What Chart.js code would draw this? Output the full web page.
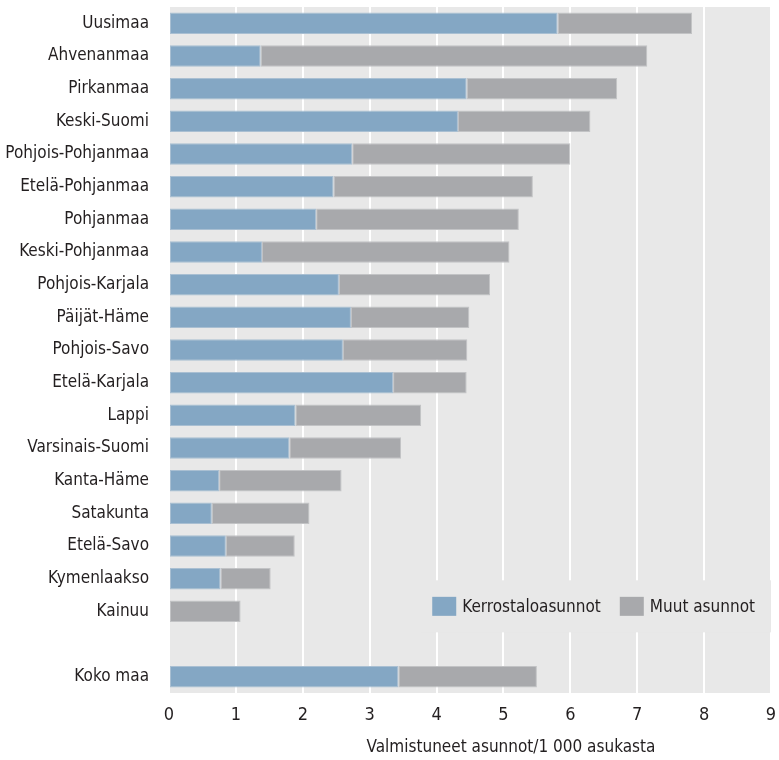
<!DOCTYPE html>
<html>
<head>
<meta charset="utf-8">
<script src="https://cdn.jsdelivr.net/npm/chart.js@4.4.1/dist/chart.umd.min.js"></script>
<style>
    html, body { margin: 0; padding: 0; background: #fff; }
    #wrap { width: 779px; height: 760px; }
</style>
</head>
<body>
<div id="wrap"><canvas id="housingChart"></canvas></div>
<script>
// valmistuneet asunnot / 1 000 asukasta, maakunnittain
const regions = [
    'Uusimaa', 'Ahvenanmaa', 'Pirkanmaa', 'Keski-Suomi', 'Pohjois-Pohjanmaa',
    'Etelä-Pohjanmaa', 'Pohjanmaa', 'Keski-Pohjanmaa', 'Pohjois-Karjala', 'Päijät-Häme',
    'Pohjois-Savo', 'Etelä-Karjala', 'Lappi', 'Varsinais-Suomi', 'Kanta-Häme',
    'Satakunta', 'Etelä-Savo', 'Kymenlaakso', 'Kainuu', '', 'Koko maa'
];
const kerrostalo = [5.81, 1.37, 4.45, 4.32, 2.74, 2.46, 2.20, 1.39, 2.54, 2.72,
    2.60, 3.35, 1.89, 1.80, 0.75, 0.64, 0.85, 0.77, 0, null, 3.43];
const muut = [2.01, 5.78, 2.25, 1.98, 3.26, 2.98, 3.03, 3.70, 2.26, 1.77,
    1.86, 1.10, 1.88, 1.67, 1.83, 1.46, 1.03, 0.75, 1.07, null, 2.07];

const seriesNames = ['Kerrostaloasunnot', 'Muut asunnot'];
const xMin = 0;
const xMax = 9;
const axisTitle = 'Valmistuneet asunnot/1 000 asukasta';

const FONT = "'Liberation Sans Narrow', 'DejaVu Sans Condensed', sans-serif";
const TEXT = '#231f20';
const BLUE = '#84a7c4';
const GREY = '#a8a9ac';
const BG = '#e8e8e8';

const plotBackground = {
    id: 'plotBackground',
    beforeDraw(chart) {
        const { ctx, chartArea } = chart;
        ctx.save();
        ctx.fillStyle = BG;
        ctx.fillRect(chartArea.left, chartArea.top, chartArea.right - chartArea.left, chartArea.bottom - chartArea.top);
        ctx.restore();
    }
};

// legend sits inside the plot, next to the Kainuu bar
const innerLegend = {
    id: 'innerLegend',
    afterDatasetsDraw(chart) {
        const { ctx, chartArea } = chart;
        const y = chart.scales.y.getPixelForValue(18) - 5;
        ctx.save();
        ctx.font = '17px ' + FONT;
        const boxW = 24, boxH = 19, gap = 6, between = 19;
        const items = chart.data.datasets.map(ds => ({ label: ds.label, color: ds.backgroundColor, w: ctx.measureText(ds.label).width }));
        let total = 0;
        items.forEach((it, i) => { total += boxW + gap + it.w + (i < items.length - 1 ? between : 0); });
        let x = chartArea.right - 16 - total;
        ctx.fillStyle = BG;
        ctx.fillRect(x - 12, y - 26, chartArea.right - x + 12, 52);
        ctx.textBaseline = 'middle';
        items.forEach(it => {
            ctx.fillStyle = it.color;
            ctx.fillRect(x, y - boxH / 2, boxW, boxH);
            x += boxW + gap;
            ctx.fillStyle = TEXT;
            ctx.fillText(it.label, x, y + 1);
            x += it.w + between;
        });
        ctx.restore();
    }
};

const xTitle = {
    id: 'xTitle',
    afterDraw(chart) {
        const { ctx } = chart;
        ctx.save();
        ctx.font = '17px ' + FONT;
        ctx.fillStyle = TEXT;
        ctx.textAlign = 'center';
        ctx.textBaseline = 'middle';
        ctx.fillText(axisTitle, 511, 748);
        ctx.restore();
    }
};

const ctx = document.getElementById('housingChart');

new Chart(ctx, {
    type: 'bar',
    data: {
        labels: regions,
        datasets: [{
            label: seriesNames[0],
            data: kerrostalo,
            backgroundColor: BLUE,
            borderColor: '#a9bfd2',
            borderWidth: 1,
            borderSkipped: false
        }, {
            label: seriesNames[1],
            data: muut,
            backgroundColor: GREY,
            borderColor: '#c2c3c5',
            borderWidth: 1,
            borderSkipped: false
        }]
    },
    options: {
        indexAxis: 'y',
        responsive: true,
        maintainAspectRatio: false,
        animation: false,
        datasets: {
            bar: { barPercentage: 0.66, categoryPercentage: 1 }
        },
        layout: { padding: { top: 7, right: 8, left: 0, bottom: 0 } },
        plugins: {
            legend: { display: false },
            tooltip: { enabled: false }
        },
        scales: {
            x: {
                stacked: true,
                min: xMin,
                max: xMax,
                border: { display: false },
                grid: { color: '#ffffff', lineWidth: 2, drawTicks: false },
                ticks: {
                    stepSize: 1,
                    color: TEXT,
                    padding: 12,
                    font: { family: FONT, size: 18 }
                },
                afterFit(scale) {
                    scale.height = 67;
                    scale.paddingLeft = 0;
                    scale.paddingRight = 0;
                }
            },
            y: {
                stacked: true,
                border: { display: false },
                grid: { display: false },
                ticks: {
                    autoSkip: false,
                    color: TEXT,
                    padding: 12,
                    font: { family: FONT, size: 17 }
                },
                afterFit(scale) {
                    scale.width = 169;
                    scale.paddingTop = 0;
                    scale.paddingBottom = 0;
                }
            }
        }
    },
    plugins: [plotBackground, innerLegend, xTitle]
});
</script>
</body>
</html>
